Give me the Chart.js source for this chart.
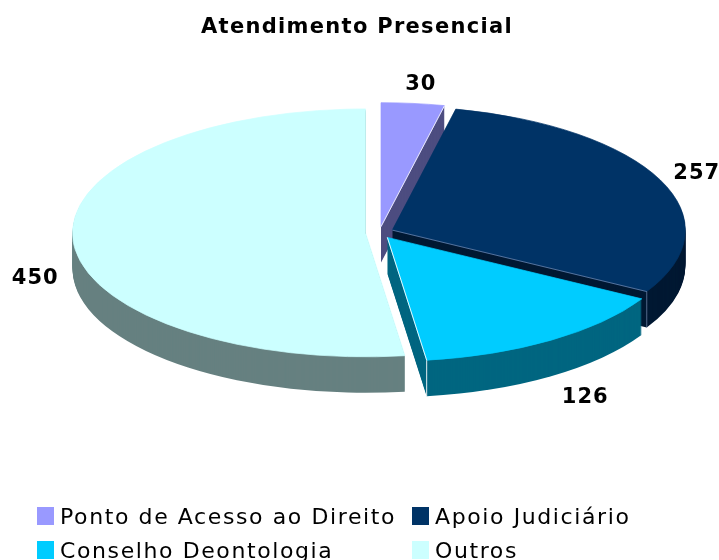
<!DOCTYPE html>
<html>
<head>
<meta charset="utf-8">
<title>Atendimento Presencial</title>
<script src="https://cdn.jsdelivr.net/npm/chart.js@4"></script>
<style>
  html, body { margin: 0; padding: 0; background: #fff; overflow: hidden; }
  canvas { display: block; }
</style>
</head>
<body>
<canvas id="pieChart" width="719" height="560"></canvas>
<script>
const chartTitle = "Atendimento Presencial";
const categories = ["Ponto de Acesso ao Direito", "Apoio Judiciário", "Conselho Deontologia", "Outros"];
const values = [30, 257, 126, 450];
const topColors = ["#9999ff", "#003366", "#00ccff", "#ccffff"];
const wallColors = ["#4d4d80", "#001933", "#006680", "#668080"];
const edgeColors = ["rgba(255,255,255,0.8)", "rgba(140,160,200,0.6)", "rgba(255,255,255,0.9)", null];

const tilt = 0.423;      // vertical squash of the disc
const depth = 36;        // thickness of the disc in px
const explode = 14;      // how far each slice moves out of the centre
const labelRadius = [338, 333, 354, 331];
const labelNudge = [3, 0, 0, 0];
const wallOrder = [0, 1, 3, 2];

function sliceShift(arc) {
    const mid = (arc.startAngle + arc.endAngle) / 2;
    return { mid: mid, dx: Math.cos(mid) * explode, dy: Math.sin(mid) * explode };
}

function applyTilt(ctx, arc) {
    ctx.translate(arc.x, arc.y);
    ctx.scale(1, tilt);
    ctx.translate(-arc.x, -arc.y);
}

const pie3d = {
    id: "pie3d",
    beforeDatasetDraw(chart, args) {
        const ctx = chart.ctx;
        const arcs = args.meta.data;

        // side walls, stacked from the bottom of the disc up
        wallOrder.forEach((i) => {
            const arc = arcs[i];
            const s = sliceShift(arc);
            ctx.fillStyle = wallColors[i];
            for (let d = depth; d >= 1; d--) {
                ctx.save();
                ctx.translate(0, d);
                applyTilt(ctx, arc);
                ctx.beginPath();
                ctx.moveTo(arc.x + s.dx, arc.y + s.dy);
                ctx.arc(arc.x + s.dx, arc.y + s.dy, arc.outerRadius, arc.startAngle, arc.endAngle);
                ctx.closePath();
                ctx.fill();
                ctx.restore();
            }
        });

        // tops, the arc elements draw themselves under the squash
        arcs.forEach((arc) => {
            const s = sliceShift(arc);
            ctx.save();
            applyTilt(ctx, arc);
            ctx.translate(s.dx, s.dy);
            arc.draw(ctx);
            ctx.restore();
        });

        // thin light line on the visible cut edges
        arcs.forEach((arc, i) => {
            if (!edgeColors[i]) return;
            const s = sliceShift(arc);
            const ax = arc.x + s.dx;
            const ay = arc.y + s.dy * tilt;
            const ex = ax + Math.cos(arc.endAngle) * arc.outerRadius;
            const ey = ay + Math.sin(arc.endAngle) * arc.outerRadius * tilt;
            ctx.save();
            ctx.strokeStyle = edgeColors[i];
            ctx.lineWidth = 1;
            ctx.beginPath();
            ctx.moveTo(ax, ay);
            ctx.lineTo(ex, ey);
            if (Math.sin(arc.endAngle) > 0) ctx.lineTo(ex, ey + depth);
            ctx.stroke();
            ctx.restore();
        });

        return false; // skip the flat default drawing
    },
    afterDraw(chart) {
        const ctx = chart.ctx;
        const arcs = chart.getDatasetMeta(0).data;

        // title
        ctx.save();
        ctx.fillStyle = "#000";
        ctx.font = "bold 21px 'DejaVu Sans'";
        ctx.letterSpacing = "1.3px";
        ctx.textAlign = "center";
        ctx.textBaseline = "alphabetic";
        ctx.fillText(chartTitle, 357, 33);
        ctx.restore();

        // value labels
        ctx.save();
        ctx.fillStyle = "#000";
        ctx.font = "bold 21px 'DejaVu Sans'";
        ctx.letterSpacing = "1px";
        ctx.textAlign = "center";
        ctx.textBaseline = "middle";
        arcs.forEach((arc, i) => {
            const s = sliceShift(arc);
            const lx = arc.x + s.dx + Math.cos(s.mid) * labelRadius[i] + labelNudge[i];
            let ly = arc.y + (s.dy + Math.sin(s.mid) * labelRadius[i]) * tilt;
            if (Math.sin(s.mid) > -0.2) ly += depth;
            ctx.fillText(String(values[i]), lx, ly);
        });
        ctx.restore();

        // legend, two aligned columns
        const colX = [37, 412];
        const rowY = [507, 541];
        ctx.save();
        ctx.font = "22px 'DejaVu Sans'";
        ctx.letterSpacing = "1.6px";
        ctx.textAlign = "left";
        ctx.textBaseline = "alphabetic";
        categories.forEach((name, i) => {
            const x = colX[i % 2];
            const y = rowY[Math.floor(i / 2)];
            ctx.fillStyle = topColors[i];
            ctx.fillRect(x, y, 17, 18);
            ctx.fillStyle = "#000";
            ctx.fillText(name, x + 23, y + 17);
        });
        ctx.restore();
    }
};

new Chart(document.getElementById("pieChart"), {
    type: "pie",
    data: {
        labels: categories,
        datasets: [{
            data: values,
            backgroundColor: topColors,
            borderColor: topColors,
            borderWidth: 1,
            radius: 293,
            clip: false
        }]
    },
    options: {
        responsive: false,
        animation: false,
        events: [],
        layout: { padding: { left: 40, bottom: 95 } },
        plugins: {
            legend: { display: false },
            tooltip: { enabled: false },
            title: { display: false }
        }
    },
    plugins: [pie3d]
});
</script>
</body>
</html>
